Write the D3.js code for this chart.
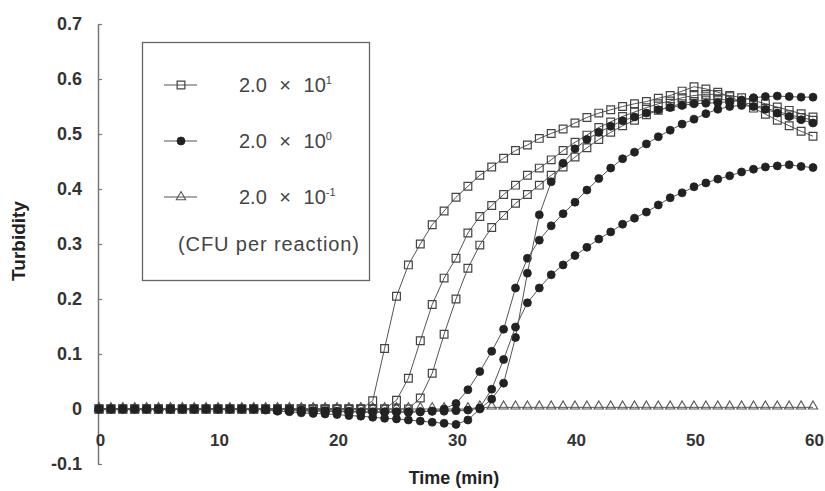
<!DOCTYPE html>
<html lang="en">
  <head>
    <meta charset="utf-8"/>
    <title>Turbidity</title>
    <script src="https://d3js.org/d3.v7.min.js"></script>
    <style>
      html, body { margin: 0; padding: 0; background: #fff; }
      svg { display: block; }
      text { font-family: "Liberation Sans", Arial, sans-serif; }
    </style>
  </head>
  <body>
    <div id="chart"></div>
<script>
  // minutes sampled once per minute
  const minutes = d3.range(0, 61);

  // 2.0 x 10^1 CFU (open squares)
  const sqA = [0,0,0,0,0,0,0,0,0,0,0,0,0,0,0,0,0,0,0,0,0,0,0,
    0.015,0.11,0.205,0.262,0.30,0.335,0.36,0.385,0.405,0.425,
    0.44,0.456,0.47,0.48,0.492,0.501,0.509,0.52,0.53,0.538,
    0.544,0.55,0.555,0.559,0.565,0.57,0.578,0.586,0.582,0.576,
    0.568,0.558,0.547,0.536,0.525,0.515,0.505,0.496];
  const sqB = [0,0,0,0,0,0,0,0,0,0,0,0,0,0,0,0,0,0,0,0,0,0,0,0,0,
    0.016,0.056,0.124,0.19,0.238,0.274,0.32,0.35,0.37,0.39,
    0.407,0.425,0.438,0.453,0.47,0.485,0.498,0.512,0.522,0.532,
    0.54,0.548,0.555,0.56,0.566,0.57,0.572,0.572,0.57,0.566,
    0.561,0.555,0.549,0.543,0.537,0.531];
  const sqC = [0,0,0,0,0,0,0,0,0,0,0,0,0,0,0,0,0,0,0,0,0,0,0,0,0,0,0,
    0.02,0.065,0.136,0.2,0.256,0.298,0.33,0.352,0.374,0.39,
    0.407,0.425,0.44,0.458,0.475,0.49,0.503,0.515,0.525,0.535,
    0.543,0.55,0.555,0.559,0.562,0.563,0.562,0.558,0.553,0.547,
    0.541,0.535,0.53,0.525];

  // 2.0 x 10^0 CFU (filled circles)
  const ciD = [0,0,0,0,0,0,0,0,0,0,0,0,0,0,0,0,
    -0.002,-0.003,-0.004,-0.004,-0.005,-0.005,-0.006,-0.006,-0.006,-0.006,
    -0.006,-0.005,-0.004,0.0,0.01,0.035,0.068,0.105,0.145,0.22,
    0.274,0.307,0.333,0.355,0.376,0.398,0.419,0.438,0.455,0.467,
    0.482,0.495,0.507,0.518,0.527,0.537,0.545,0.55,0.552,0.55,
    0.545,0.538,0.532,0.526,0.52];
  const ciE = [0,0,0,0,0,0,0,0,0,0,0,0,0,0,
    -0.002,-0.004,-0.005,-0.007,-0.008,-0.009,-0.01,-0.012,-0.013,-0.015,
    -0.017,-0.018,-0.02,-0.022,-0.024,-0.026,-0.028,-0.02,0.0,0.018,
    0.047,0.13,0.247,0.353,0.413,0.447,0.473,0.49,0.503,0.514,
    0.524,0.531,0.538,0.544,0.548,0.552,0.555,0.556,0.557,0.559,
    0.562,0.566,0.568,0.569,0.568,0.567,0.567];
  const ciF = [0,0,0,0,0,0,0,0,0,0,0,0,0,0,0,0,0,
    -0.002,-0.003,-0.003,-0.004,-0.004,-0.005,-0.005,-0.005,-0.005,-0.005,
    -0.005,-0.004,-0.004,-0.003,-0.002,0.002,0.036,0.09,0.149,0.193,
    0.22,0.244,0.262,0.279,0.294,0.309,0.322,0.336,0.347,0.358,
    0.371,0.384,0.393,0.404,0.411,0.418,0.424,0.431,0.436,0.44,
    0.442,0.444,0.441,0.439];

  // 2.0 x 10^-1 CFU (open triangles)
  const trG = [0,0,0,0,0,0,0,0,0,0,0,0,0,0,0,0,0,0,0,0,0,0,0,0,0,0,0,0,0,0,0,0,
    0.003,0.003,0.003,0.003,0.003,0.003,0.003,0.003,0.003,0.003,
    0.003,0.003,0.003,0.003,0.003,0.003,0.003,0.003,0.003,0.003,
    0.003,0.003,0.003,0.003,0.003,0.003,0.003,0.003,0.003];

  const xTicks = [0, 10, 20, 30, 40, 50, 60];
  const yTicks = [-0.1, 0, 0.1, 0.2, 0.3, 0.4, 0.5, 0.6, 0.7];
  const legendExp = ["1", "0", "-1"];

  const width = 825, height = 491;
  const svg = d3.select("#chart").append("svg")
      .attr("width", width)
      .attr("height", height);

  const x = d3.scaleLinear().domain([0, 60]).range([99, 813]);
  const y = d3.scaleLinear().domain([-0.1, 0.7]).range([464, 24]);

  // y axis: ticks point inward, labels on the left
  const yAxis = svg.append("g")
      .attr("transform", `translate(${x(0) - 1},0)`)
      .call(d3.axisLeft(y).tickValues(yTicks)
        .tickSizeInner(-4).tickSizeOuter(0).tickPadding(16)
        .tickFormat(d => d === 0 ? "0" : d.toFixed(1)));
  yAxis.select(".domain").attr("stroke", "#777").attr("stroke-width", 1.5);
  yAxis.selectAll(".tick line").attr("stroke", "#777").attr("stroke-width", 1.2);
  yAxis.selectAll(".tick text")
      .attr("fill", "#333")
      .style("font-size", "18px")
      .style("font-weight", "bold");

  // x axis: labels only
  const xAxis = svg.append("g")
      .attr("transform", "translate(1,424)")
      .call(d3.axisBottom(x).tickValues(xTicks).tickSize(0).tickPadding(10));
  xAxis.select(".domain").remove();
  xAxis.selectAll(".tick text")
      .attr("fill", "#333")
      .style("font-size", "17px")
      .style("font-weight", "bold");

  svg.append("text")
      .attr("transform", "translate(25,241) rotate(-90)")
      .attr("text-anchor", "middle")
      .attr("fill", "#222")
      .style("font-size", "19px")
      .style("font-weight", "bold")
      .text("Turbidity");

  svg.append("text")
      .attr("x", 454)
      .attr("y", 484)
      .attr("text-anchor", "middle")
      .attr("fill", "#222")
      .style("font-size", "18px")
      .style("font-weight", "bold")
      .text("Time (min)");

  const line = d3.line()
      .x((d, i) => x(minutes[i]))
      .y(d => y(d));

  const lineColor = "#555";

  const symSquare = d3.symbol().type(d3.symbolSquare).size(60);
  const symCircle = d3.symbol().type(d3.symbolCircle).size(50);
  const symTriangle = d3.symbol().type(d3.symbolTriangle).size(38);

  const series = [
    { values: trG, kind: "tri" },
    { values: sqA, kind: "sq" },
    { values: sqB, kind: "sq" },
    { values: sqC, kind: "sq" },
    { values: ciD, kind: "ci" },
    { values: ciE, kind: "ci" },
    { values: ciF, kind: "ci" }
  ];

  function drawMarker(sel, kind) {
    if (kind === "sq") {
      sel.attr("d", symSquare()).attr("fill", "none")
        .attr("stroke", "#444").attr("stroke-width", 1.2);
    } else if (kind === "ci") {
      sel.attr("d", symCircle()).attr("fill", "#222")
        .attr("stroke", "#222").attr("stroke-width", 0.8);
    } else {
      sel.attr("d", symTriangle()).attr("fill", "none")
        .attr("stroke", "#555").attr("stroke-width", 1.1);
    }
  }

  series.forEach(s => {
    const g = svg.append("g");
    g.append("path")
        .datum(s.values)
        .attr("fill", "none")
        .attr("stroke", lineColor)
        .attr("stroke-width", 1)
        .attr("d", line);
    g.selectAll("path.mark")
      .data(s.values)
      .join("path")
        .attr("class", "mark")
        .attr("transform", (d, i) => `translate(${x(minutes[i])},${y(d) + (s.kind === "tri" ? -1 : 0)})`)
        .call(drawMarker, s.kind);
  });

  // legend
  const legend = svg.append("g");
  legend.append("rect")
      .attr("x", 142.5).attr("y", 42.5)
      .attr("width", 227).attr("height", 238)
      .attr("fill", "#fff")
      .attr("stroke", "#666")
      .attr("stroke-width", 1.3);

  const legendKinds = ["sq", "ci", "tri"];
  const legendY = [85, 141, 197];
  legendKinds.forEach((k, i) => {
    legend.append("line")
        .attr("x1", 164).attr("x2", 197)
        .attr("y1", legendY[i]).attr("y2", legendY[i])
        .attr("stroke", lineColor).attr("stroke-width", 1.2);
    legend.append("path")
        .attr("transform", `translate(181,${legendY[i]})`)
        .call(drawMarker, k);
    const t = legend.append("text")
        .attr("x", 239).attr("y", legendY[i] + 7)
        .attr("fill", "#444")
        .style("font-size", "20px")
        .style("word-spacing", "7px");
    t.append("tspan").text("2.0 × 10");
    t.append("tspan")
        .attr("dy", -8)
        .style("font-size", "11px")
        .text(legendExp[i]);
  });

  legend.append("text")
      .attr("x", 178).attr("y", 251)
      .attr("fill", "#444")
      .attr("textLength", 181)
      .attr("lengthAdjust", "spacing")
      .style("font-size", "20px")
      .text("(CFU per reaction)");
</script>
  </body>
</html>
